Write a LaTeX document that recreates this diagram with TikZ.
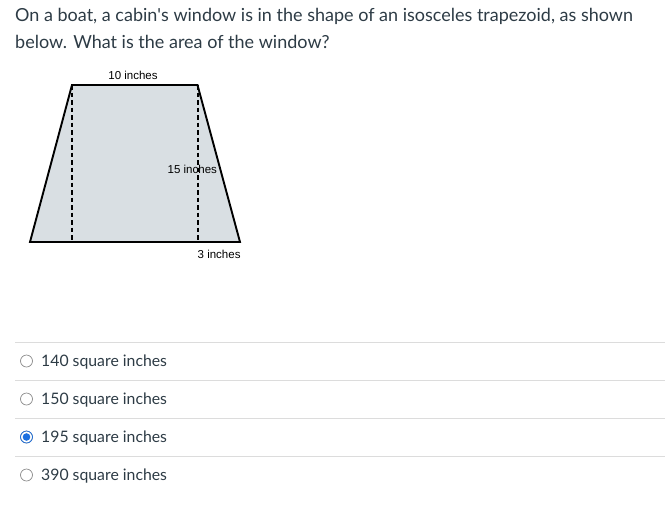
\documentclass[tikz,border=0pt]{standalone}
\usepackage{fontspec}
\setmainfont{Lato}
\newfontfamily\figfont{Liberation Sans}
\usetikzlibrary{positioning}
\definecolor{winfill}{HTML}{D9DFE3}
\definecolor{rulegray}{HTML}{DCDCDC}
\definecolor{radiogray}{HTML}{8A8A8A}
\definecolor{pickblue}{HTML}{1A6FE0}
\definecolor{qtext}{HTML}{2D3B45}

\begin{document}
\begin{tikzpicture}[x=1pt,y=-1pt]
\tikzstyle{every node}+=[inner sep=0pt]
\tikzstyle{qline}=[anchor=base west, font=\fontsize{18}{21}\selectfont, text=qtext]
\tikzstyle{lbl}=[font=\figfont\fontsize{11.5}{13}\selectfont]
\tikzstyle{radio}=[circle, draw=radiogray, line width=0.7pt, minimum size=12pt]
\tikzstyle{answer}=[anchor=base west, font=\fontsize{15.8}{18}\selectfont, text=qtext]
\useasboundingbox (0,0) rectangle (669,507);

% question
\node[qline] (q1) at (15,21.5) {On a boat, a cabin\textquotesingle s window is in the shape of an isosceles trapezoid, as shown};
\node[qline] (q2) at (15,48.5) {below. What is the area of the window?};

% window
\coordinate (tl) at (72,85);
\coordinate (tr) at (197.5,85);
\coordinate (br) at (240,242);
\coordinate (bl) at (30,242);
\filldraw[fill=winfill, line width=1.9pt, line join=miter] (tl) -- (tr) -- (br) -- (bl) -- cycle;
\draw[line width=2pt, dash pattern=on 4.5pt off 3pt] (tl) -- (tl |- bl);
\draw[line width=2pt, dash pattern=on 4.5pt off 3pt] (tr) -- (tr |- br);
\node[lbl] (top) at (133,75.5) {10 inches};
\node[lbl, anchor=west] (height) at (167.5,169) {15 inches};
\node[lbl, anchor=west] (gap) at (197.5,254) {3 inches};

% choices
\foreach \y/\val [count=\i] in {361/140,399/150,437/195,475/390} {
  \draw[rulegray, line width=0.8pt] (15,\y-19) -- (665,\y-19);
  \node[radio] (radio\i) at (26.5,\y) {};
  \node[answer] (opt\i) at (41,\y+5.5) {\val\ square inches};
}
\node[radio, draw=pickblue] at (radio3) {};
\fill[pickblue] (radio3) circle (3.8);
\end{tikzpicture}
\end{document}
